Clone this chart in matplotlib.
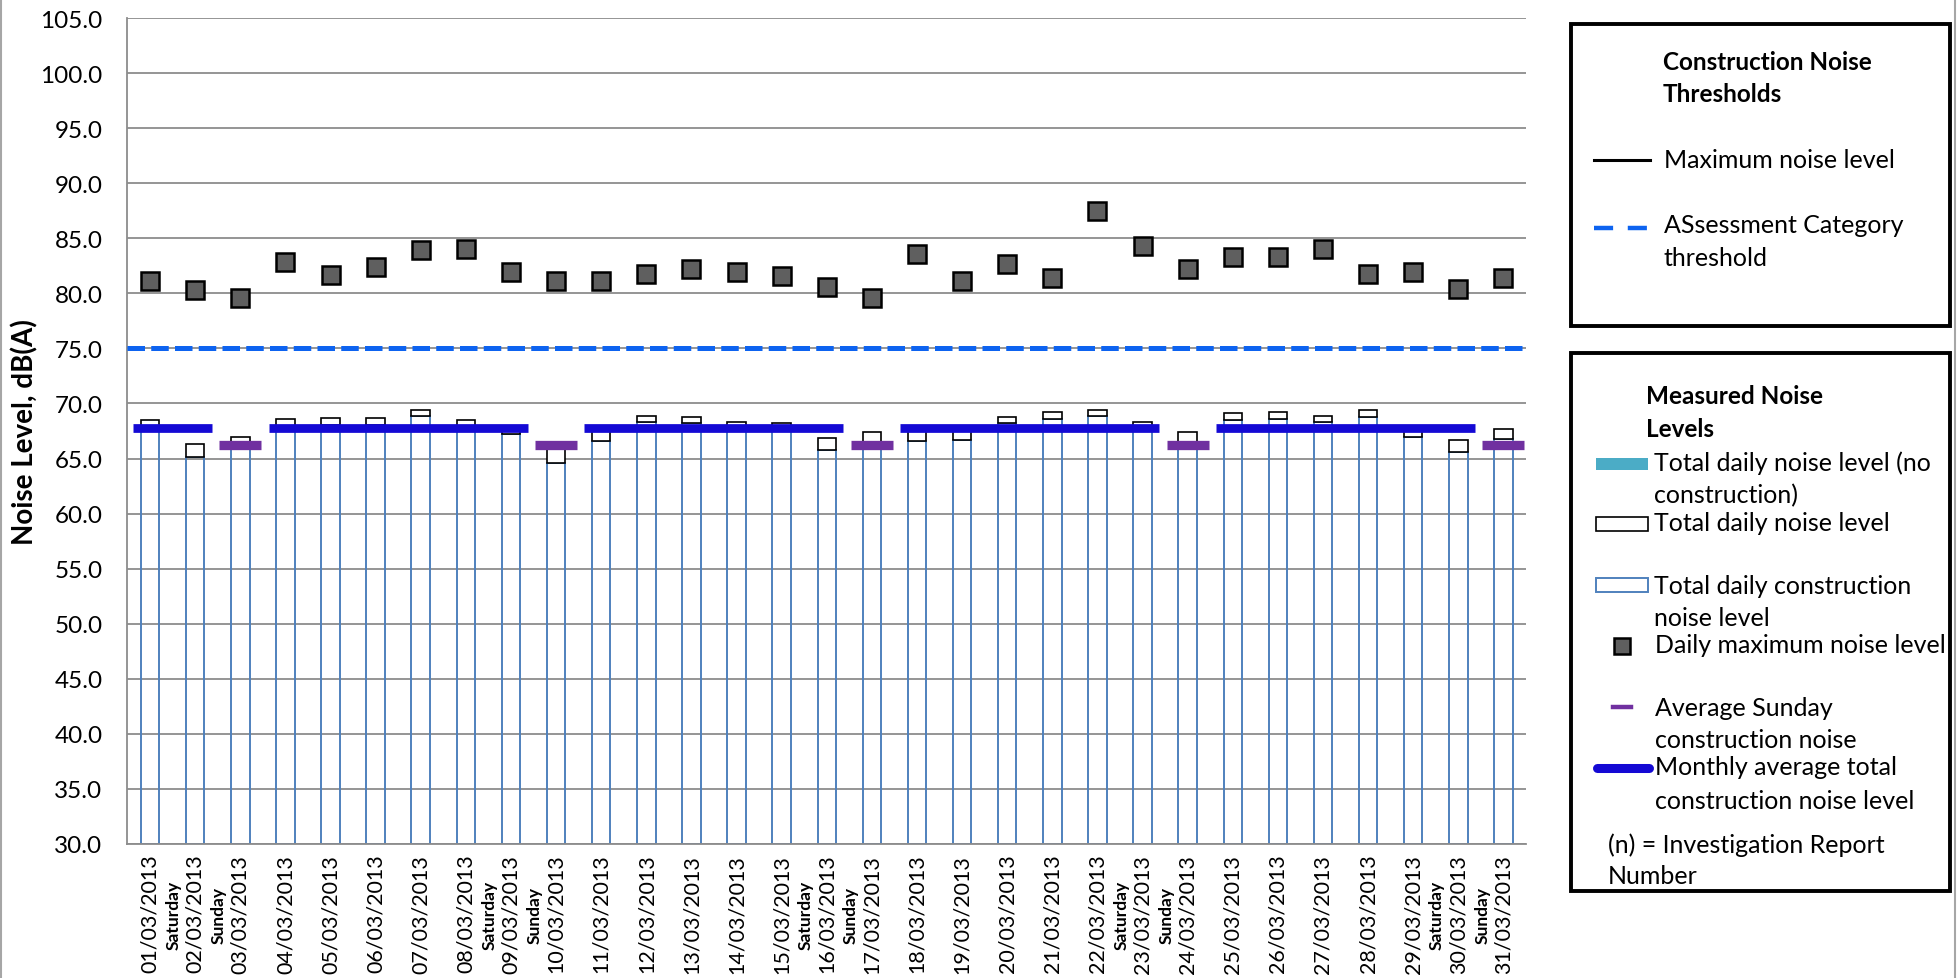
import matplotlib
matplotlib.use("Agg")
import matplotlib.pyplot as plt
from matplotlib.lines import Line2D
from matplotlib.patches import Rectangle
import numpy as np

plt.rcParams['font.family'] = ['Lato', 'DejaVu Sans']

# ---------------- data ----------------
dates = ["01/03/2013", "02/03/2013", "03/03/2013", "04/03/2013", "05/03/2013",
         "06/03/2013", "07/03/2013", "08/03/2013", "09/03/2013", "10/03/2013",
         "11/03/2013", "12/03/2013", "13/03/2013", "14/03/2013", "15/03/2013",
         "16/03/2013", "17/03/2013", "18/03/2013", "19/03/2013", "20/03/2013",
         "21/03/2013", "22/03/2013", "23/03/2013", "24/03/2013", "25/03/2013",
         "26/03/2013", "27/03/2013", "28/03/2013", "29/03/2013", "30/03/2013",
         "31/03/2013"]
day_notes = ["", "Saturday", "Sunday", "", "", "", "", "", "Saturday", "Sunday",
             "", "", "", "", "", "Saturday", "Sunday", "", "", "", "", "",
             "Saturday", "Sunday", "", "", "", "", "", "Saturday", "Sunday"]

daily_max = [81.1, 80.3, 79.6, 82.8, 81.7, 82.4, 83.9, 84.0, 81.9, 81.1,
             81.1, 81.8, 82.2, 81.9, 81.6, 80.6, 79.6, 83.6, 81.1, 82.7,
             81.4, 87.5, 84.3, 82.2, 83.3, 83.3, 84.0, 81.8, 81.9, 80.4, 81.4]

construction_level = [67.7, 65.1, 66.1, 67.9, 68.0, 68.0, 68.9, 67.9, 67.2, 64.6,
                      66.6, 68.3, 68.2, 67.9, 67.9, 65.8, 66.2, 66.6, 66.7, 68.2,
                      68.6, 68.9, 67.9, 66.2, 68.5, 68.6, 68.3, 68.8, 67.0, 65.6, 66.8]

total_level = [68.5, 66.3, 67.0, 68.6, 68.7, 68.7, 69.4, 68.5, 67.7, 66.0,
               67.6, 68.9, 68.8, 68.3, 68.2, 66.9, 67.4, 67.6, 67.5, 68.8,
               69.2, 69.4, 68.3, 67.4, 69.1, 69.2, 68.9, 69.4, 67.6, 66.7, 67.7]

assessment_threshold = 75.0
monthly_avg = 67.8
sunday_avg = 66.2
y_min, y_max, y_step = 30.0, 105.0, 5.0

# ---------------- figure ----------------
W, H, DPI = 1957, 979, 100
fig = plt.figure(figsize=(W / DPI, H / DPI), dpi=DPI)
fig.patch.set_facecolor('white')

def fx(px):
    return px / W

def fy(py):
    return 1 - py / H

ax_left, ax_right, ax_top, ax_bottom = 127.5, 1526, 19, 845
ax = fig.add_axes([fx(ax_left), fy(ax_bottom), (ax_right - ax_left) / W, (ax_bottom - ax_top) / H])

n = len(dates)
x = np.arange(n)
cons = np.array(construction_level)
tot = np.array(total_level)

BAR_BLUE = '#4F81BD'
GRID = '#8C8C8C'
AVG_BLUE = '#1409D4'
PURPLE = '#7030A0'
THR_BLUE = '#0D63F0'
SQ_GRAY = '#5F5F5F'

bw = 0.41
ax.bar(x, cons - y_min, bottom=y_min, width=bw, facecolor='none',
       edgecolor=BAR_BLUE, linewidth=1.4, zorder=2)
ax.bar(x, tot - cons, bottom=cons, width=bw, facecolor='white',
       edgecolor='black', linewidth=1.2, zorder=2)

ax.axhline(assessment_threshold, color=THR_BLUE, lw=3.6, dashes=(3.5, 1.25), zorder=3)

# monthly average segments (non-Sunday runs)
is_sunday = np.array([d == "Sunday" for d in day_notes])
runs = []
start = None
for i in range(n):
    if not is_sunday[i] and start is None:
        start = i
    if (is_sunday[i] or i == n - 1) and start is not None:
        end = i - 1 if is_sunday[i] else i
        runs.append((start, end))
        start = None
for s, e in runs:
    ax.plot([s - 0.37, e + 0.37], [monthly_avg, monthly_avg], color=AVG_BLUE,
            lw=6.3, solid_capstyle='butt', zorder=4)

sun_x = x[is_sunday]
ax.plot(sun_x, [sunday_avg] * len(sun_x), ls='none', marker='_', ms=30,
        mew=6.7, color=PURPLE, zorder=4)

ax.plot(x, daily_max, ls='none', marker='s', ms=13, mfc=SQ_GRAY,
        mec='black', mew=1.8, zorder=5)

ax.set_xlim(-0.5, n - 0.5)
ax.set_ylim(y_min, y_max)
yt = np.arange(y_min, y_max + 0.01, y_step)
ax.set_yticks(yt)
ax.set_yticklabels([f"{v:.1f}" for v in yt], fontsize=17.5)
ax.tick_params(axis='y', length=0, pad=18)
ax.set_xticks(x)
ax.set_xticklabels(dates, rotation=90, fontsize=15.5, ha='center', va='top')
ax.tick_params(axis='x', length=0, pad=7)
ax.yaxis.grid(True, color=GRID, lw=1.3)
ax.set_axisbelow(True)
for side in ['top', 'right']:
    ax.spines[side].set_visible(False)
for side in ['left', 'bottom']:
    ax.spines[side].set_color(GRID)
    ax.spines[side].set_linewidth(1.3)

for i, note in enumerate(day_notes):
    if note:
        ax.text(i - 0.47, -0.085, note, transform=ax.get_xaxis_transform(),
                rotation=90, ha='center', va='center', fontsize=12.5,
                fontweight='bold')

fig.text(fx(25), fy(432), "Noise Level, dB(A)", rotation=90, ha='center',
         va='center', fontsize=20, fontweight='bold')

# chart border lines
fig.add_artist(Line2D([fx(1), fx(1)], [0, 1], transform=fig.transFigure,
                      color='#A6A6A6', lw=1.5))
fig.add_artist(Line2D([fx(1955), fx(1955)], [0, 1], transform=fig.transFigure,
                      color='#A6A6A6', lw=1.5))

# ---------------- legend boxes ----------------
def box(x0, y0, x1, y1):
    fig.add_artist(Rectangle((fx(x0), fy(y1)), (x1 - x0) / W, (y1 - y0) / H,
                             transform=fig.transFigure, fill=False,
                             edgecolor='black', lw=2.8))

def txt(px, py, s, bold=False, size=18):
    fig.text(fx(px), fy(py), s, ha='left', va='center', fontsize=size,
             fontweight='bold' if bold else 'normal')

def hline(x0, x1, py, **kw):
    fig.add_artist(Line2D([fx(x0), fx(x1)], [fy(py), fy(py)],
                          transform=fig.transFigure, **kw))

def rect(x0, y0, x1, y1, **kw):
    fig.add_artist(Rectangle((fx(x0), fy(y1)), (x1 - x0) / W, (y1 - y0) / H,
                             transform=fig.transFigure, **kw))

box(1571, 25, 1950, 327)
txt(1663, 62, "Construction Noise", bold=True, size=17.5)
txt(1663, 95, "Thresholds", bold=True, size=17.5)
hline(1594, 1650, 161, color='black', lw=2.2)
txt(1664, 160, "Maximum noise level")
hline(1594, 1647, 229, color=THR_BLUE, lw=3.2, dashes=(4.3, 3.3))
txt(1664, 226, "ASsessment Category")
txt(1664, 258, "threshold")

box(1571, 354, 1950, 892)
txt(1646, 397, "Measured Noise", bold=True, size=17.5)
txt(1646, 430, "Levels", bold=True, size=17.5)
rect(1596, 459, 1648, 471, facecolor='#4BACC6', edgecolor='none')
txt(1654, 463, "Total daily noise level (no")
txt(1654, 496, "construction)")
rect(1596, 518, 1648, 532, facecolor='white', edgecolor='black', lw=1.2)
txt(1654, 524, "Total daily noise level")
rect(1596, 579, 1648, 593, facecolor='white', edgecolor=BAR_BLUE, lw=1.4)
txt(1654, 586, "Total daily construction")
txt(1654, 618, "noise level")
fig.add_artist(Line2D([fx(1622)], [fy(647)], transform=fig.transFigure,
                      ls='none', marker='s', ms=11.5, mfc=SQ_GRAY, mec='black', mew=1.8))
txt(1655, 646, "Daily maximum noise level")
hline(1613, 1631, 708, color=PURPLE, lw=3.2)
txt(1655, 708, "Average Sunday")
txt(1655, 741, "construction noise")
hline(1597, 1649, 769, color=AVG_BLUE, lw=6.5, solid_capstyle='round')
txt(1655, 768, "Monthly average total")
txt(1655, 802, "construction noise level")
txt(1608, 845, "(n) = Investigation Report")
txt(1608, 877, "Number")

fig.savefig("out.png", dpi=DPI, facecolor='white')
